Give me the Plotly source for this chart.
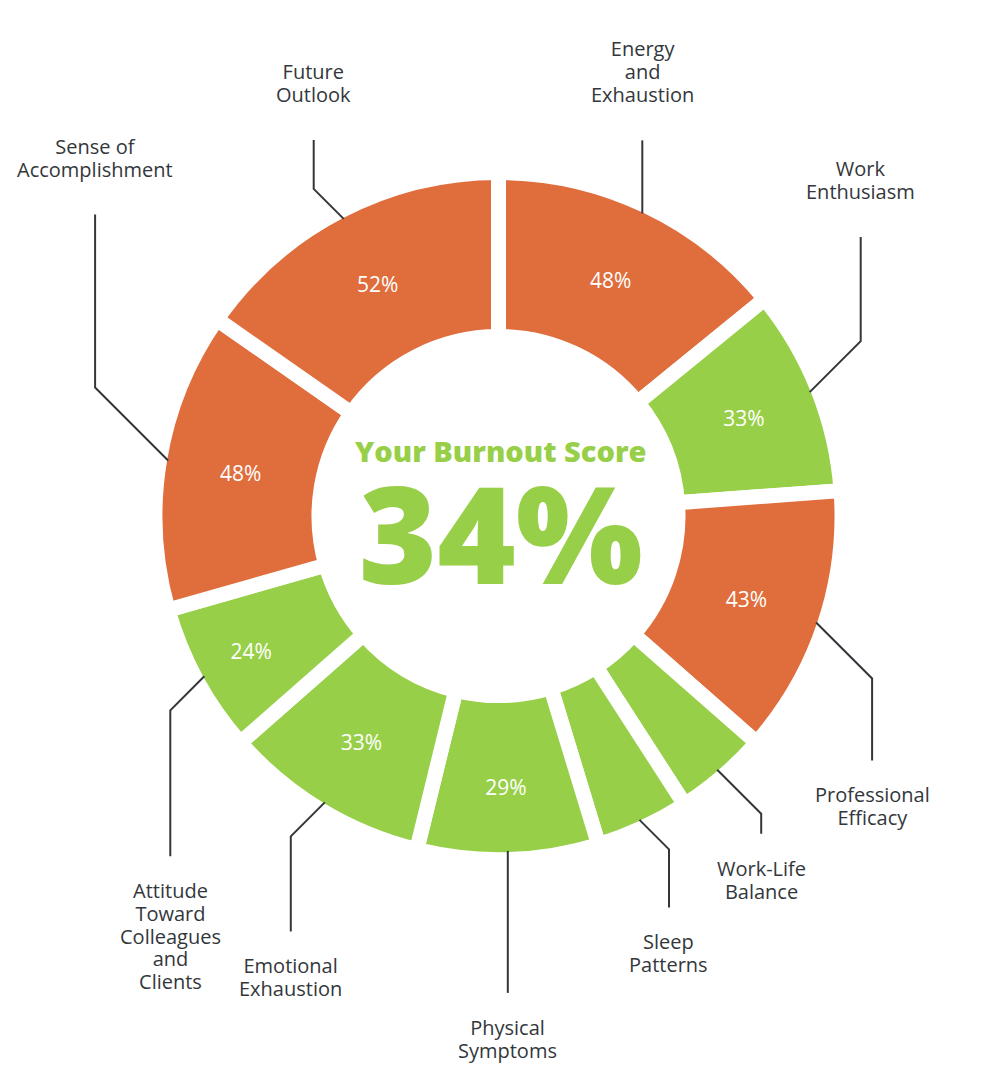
import math

import plotly.graph_objects as go

# ---- data ----
categories = [
    "Energy and Exhaustion", "Work Enthusiasm", "Professional Efficacy",
    "Work-Life Balance", "Sleep Patterns", "Physical Symptoms",
    "Emotional Exhaustion", "Attitude Toward Colleagues and Clients",
    "Sense of Accomplishment", "Future Outlook",
]
label_lines = [
    ["Energy", "and", "Exhaustion"], ["Work", "Enthusiasm"],
    ["Professional", "Efficacy"], ["Work-Life", "Balance"],
    ["Sleep", "Patterns"], ["Physical", "Symptoms"],
    ["Emotional", "Exhaustion"],
    ["Attitude", "Toward", "Colleagues", "and", "Clients"],
    ["Sense of", "Accomplishment"], ["Future", "Outlook"],
]
scores = [48, 33, 43, 15, 15, 29, 33, 24, 48, 52]
overall = round(sum(scores) / len(scores))  # 34

# ---- styling ----
ORANGE = "#E06D3C"
GREEN = "#98CF48"
INK = "#33373B"
W, H = 986, 1090
CX, CY = 498.5, 516          # donut centre in pixels
R_VIS = 336                   # visible outer radius
GAP = 15                      # white gap between slices
R = R_VIS + GAP / 2
HOLE = (187 - GAP / 2) / R

# leader line shape per label: diagonal run, vertical run (pixels)
diag = [0, 51, 56, 44, 29.5, 0, 34, 34, 73, 30]
rise = [73, 104, 82, 20, 58, 142, 95, 146, 173, 49]

colors = [ORANGE if s >= 40 else GREEN for s in scores]
pct_text = [f"{s}%" if s >= 20 else "" for s in scores]

fig = go.Figure()

fig.add_trace(go.Pie(
    values=scores, labels=categories, text=pct_text,
    textinfo="text", textposition="inside", insidetextorientation="horizontal",
    sort=False, direction="clockwise", rotation=0, hole=HOLE,
    marker=dict(colors=colors, line=dict(color="white", width=GAP)),
    insidetextfont=dict(family="Open Sans", size=21, color="white"),
    domain=dict(x=[(CX - R) / W, (CX + R) / W],
                y=[(H - CY - R) / H, (H - CY + R) / H]),
    showlegend=False, hoverinfo="skip",
))

# invisible trace so the pixel-mapped cartesian axes exist
fig.add_trace(go.Scatter(x=[0], y=[0], mode="markers", marker=dict(opacity=0),
                         hoverinfo="skip", showlegend=False))

# leader lines + outside labels, anchored on each slice's middle angle
total = sum(scores)
shapes = []
annotations = []
cum = 0
for i, s in enumerate(scores):
    ang = math.radians(360 * (cum + s / 2) / total)
    cum += s
    sn = math.sin(ang)
    sx = 0 if abs(sn) < 0.05 else (1 if sn > 0 else -1)
    sy = -1 if math.cos(ang) > 0 else 1
    x0 = CX + (R_VIS - 1) * sn
    y0 = CY - (R_VIS - 1) * math.cos(ang)
    x1, y1 = x0 + sx * diag[i], y0 + sy * diag[i]
    x2, y2 = x1, y1 + sy * rise[i]
    if sx == 0:
        x1 = x2 = x0
    shapes.append(dict(
        type="path", xref="x", yref="y", layer="above",
        path=f"M{x0:.1f},{y0:.1f} L{x1:.1f},{y1:.1f} L{x2:.1f},{y2:.1f}",
        line=dict(color=INK, width=2),
    ))
    text = "<br>".join(f"<span style='font-size:20px'>{t}</span>"
                       for t in label_lines[i])
    if sy < 0:
        ya, yy = "bottom", y2 - 30
    else:
        ya, yy = "top", y2 + 19
    annotations.append(dict(
        x=x2, y=yy, xref="x", yref="y", text=text,
        showarrow=False, xanchor="center", yanchor=ya, align="center",
        font=dict(family="Open Sans", size=17.5, color=INK),
    ))

# centre score
annotations.append(dict(
    x=500, y=625, xref="x", yref="y",
    text=("<span style='font-size:29px'>Your Burnout Score</span><br>"
          f"<span style='font-size:134px'>{overall}%</span>"),
    showarrow=False, xanchor="center", yanchor="bottom", align="center",
    font=dict(family="Open Sans", size=94, color=GREEN, weight=800),
))

fig.update_layout(
    width=W, height=H, autosize=False,
    margin=dict(l=0, r=0, t=0, b=0),
    paper_bgcolor="white", plot_bgcolor="white",
    xaxis=dict(range=[0, W], visible=False, fixedrange=True),
    yaxis=dict(range=[H, 0], visible=False, fixedrange=True),
    annotations=annotations, shapes=shapes,
)

fig.write_html("out.html", config={"displayModeBar": False},
               post_script="document.body.style.margin='0';")
